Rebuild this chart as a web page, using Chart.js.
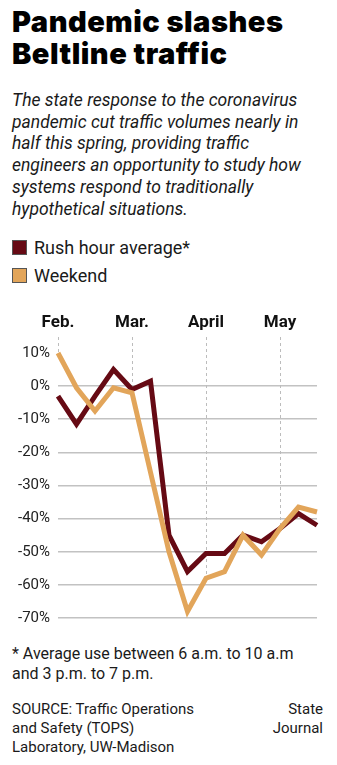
<!DOCTYPE html>
<html>
<head>
<meta charset="utf-8">
<script src="https://cdn.jsdelivr.net/npm/chart.js@4/dist/chart.umd.min.js"></script>
<style>
  html, body { margin: 0; padding: 0; background: #fff; }
  body { width: 337px; height: 765px; position: relative; overflow: hidden; color: #1a1a1a; font-family: Roboto, sans-serif; }
  .abs { position: absolute; white-space: nowrap; }
  #title { left: 12px; top: 6px; font-family: Inter, sans-serif; font-weight: 900; font-size: 29px; line-height: 32px; letter-spacing: 0.5px; color: #000; }
  #dek { left: 12px; top: 90px; font-style: italic; font-size: 17.5px; line-height: 21.7px; }
  .key { left: 12px; font-size: 18px; line-height: 20px; }
  .key i { display: inline-block; width: 13px; height: 13px; border: 1px solid #555; vertical-align: -1px; margin-right: 7px; }
  #chartBox { left: 0; top: 300px; width: 337px; height: 335px; }
  #note { left: 12px; top: 644px; font-size: 16px; line-height: 20px; }
  #source { left: 12px; top: 700px; font-size: 15px; line-height: 19px; }
  #credit { right: 14px; top: 700px; font-size: 15px; line-height: 19px; text-align: right; }
</style>
</head>
<body>
<div id="title" class="abs">Pandemic slashes<br>Beltline traffic</div>
<div id="dek" class="abs">The state response to the coronavirus<br>pandemic cut traffic volumes nearly in<br>half this spring, providing traffic<br>engineers an opportunity to study how<br>systems respond to traditionally<br>hypothetical situations.</div>
<div class="abs key" style="top:238px"><i style="background:#660a14"></i>Rush hour average*</div>
<div class="abs key" style="top:266px"><i style="background:#e2a55a"></i>Weekend</div>
<div id="chartBox" class="abs"><canvas id="traffic"></canvas></div>
<div id="note" class="abs">* Average use between 6 a.m. to 10 a.m<br>and 3 p.m. to 7 p.m.</div>
<div id="source" class="abs">SOURCE: Traffic Operations<br>and Safety (TOPS)<br>Laboratory, UW-Madison</div>
<div id="credit" class="abs">State<br>Journal</div>

<script>
// weekly readings, % change in volume
const weeks = ["Feb.", "", "", "", "Mar.", "", "", "", "April", "", "", "", "May", "", ""];
const rushHour = [-3, -11.5, -3, 5, -1, 1.5, -45, -56, -50.5, -50.5, -45, -47, -43, -38.5, -42];
const weekend = [10, -0.5, -7.5, -0.5, -2, -26, -50, -68, -58, -56, -45, -51, -43, -36.5, -38];
const yTicks = [10, 0, -10, -20, -30, -40, -50, -60, -70];

const maroon = "#660a14";
const orange = "#e2a55a";

// dashed month markers, dropped from above the plot down to the weekend line
const monthLines = {
  id: "monthLines",
  beforeDatasetsDraw(chart) {
    const { ctx, chartArea, scales } = chart;
    ctx.save();
    ctx.strokeStyle = "#bcbcbc";
    ctx.lineWidth = 1;
    ctx.setLineDash([3, 3]);
    weeks.forEach((w, i) => {
      if (!w) return;
      const x = Math.round(scales.x.getPixelForValue(i)) + 0.5;
      const yEnd = scales.y.getPixelForValue(weekend[i]);
      ctx.beginPath();
      ctx.moveTo(x, chartArea.top - 16);
      ctx.lineTo(x, yEnd);
      ctx.stroke();
    });
    ctx.restore();
  }
};

new Chart(document.getElementById("traffic"), {
  type: "line",
  data: {
    labels: weeks,
    datasets: [
      { label: "Weekend", data: weekend, borderColor: orange, order: 0 },
      { label: "Rush hour average*", data: rushHour, borderColor: maroon, order: 1 }
    ]
  },
  options: {
    responsive: true,
    maintainAspectRatio: false,
    animation: false,
    layout: { padding: { left: 0, right: 17, top: 0, bottom: 12 } },
    elements: {
      point: { radius: 0 },
      line: { borderWidth: 5, tension: 0, borderCapStyle: "butt", borderJoinStyle: "miter", fill: false }
    },
    datasets: { line: { clip: false } },
    plugins: { legend: { display: false }, tooltip: { enabled: false } },
    scales: {
      x: {
        position: "top",
        offset: false,
        grid: { display: false, drawTicks: false },
        border: { display: false },
        ticks: {
          autoSkip: false,
          maxRotation: 0,
          padding: 20,
          color: "#111",
          font: { family: "Roboto", weight: "bold", size: 17 }
        },
        afterFit(s) { s.height = 53; }
      },
      y: {
        min: -70,
        max: 10,
        afterBuildTicks(s) { s.ticks = yTicks.map(v => ({ value: v })); },
        grid: {
          drawTicks: false,
          lineWidth: 1.6,
          color: c => (c.tick && c.tick.value === 10 ? "rgba(0,0,0,0)" : "#c2c2c2")
        },
        border: { display: false },
        ticks: {
          padding: 8,
          color: "#222",
          font: { family: "Roboto", size: 15 },
          callback: v => v + "%"
        },
        afterFit(s) { s.width = 58; }
      }
    }
  },
  plugins: [monthLines]
});
</script>
</body>
</html>
